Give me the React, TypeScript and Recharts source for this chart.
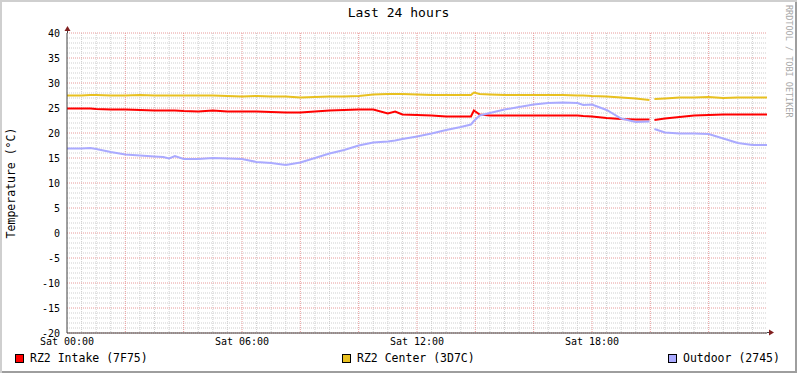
import React from 'react';
import { LineChart, Line, XAxis, YAxis, CartesianGrid, ReferenceDot } from 'recharts';

// time in hours since Sat 00:00
const hours = [0, 0.5, 0.8, 1, 1.5, 2, 2.5, 3, 3.3, 3.5, 3.7, 4, 4.5, 5, 5.5, 6, 6.5, 7, 7.5, 8, 8.5, 9, 9.5, 10, 10.5, 11, 11.25, 11.5, 12, 12.5, 13, 13.5, 13.85, 13.95, 14.15, 14.5, 15, 15.5, 16, 16.5, 17, 17.5, 17.7, 18, 18.5, 19, 19.5, 19.97, 20.05, 20.14, 20.5, 21, 21.5, 22, 22.5, 23, 23.5, 24];

const intake = [24.9, 24.9, 24.9, 24.8, 24.7, 24.7, 24.6, 24.5, 24.5, 24.5, 24.5, 24.4, 24.3, 24.5, 24.3, 24.3, 24.3, 24.2, 24.1, 24.1, 24.3, 24.5, 24.6, 24.7, 24.7, 23.9, 24.3, 23.7, 23.6, 23.5, 23.3, 23.3, 23.3, 24.5, 23.7, 23.5, 23.5, 23.5, 23.5, 23.5, 23.5, 23.5, 23.4, 23.3, 23.0, 22.8, 22.7, 22.7, null, 22.6, 22.9, 23.2, 23.5, 23.6, 23.7, 23.7, 23.7, 23.7];

const center = [27.5, 27.5, 27.6, 27.6, 27.5, 27.5, 27.6, 27.5, 27.5, 27.5, 27.5, 27.5, 27.5, 27.5, 27.4, 27.3, 27.4, 27.3, 27.3, 27.1, 27.2, 27.3, 27.3, 27.4, 27.7, 27.8, 27.8, 27.8, 27.7, 27.6, 27.6, 27.6, 27.6, 28.1, 27.8, 27.7, 27.6, 27.6, 27.6, 27.6, 27.6, 27.5, 27.5, 27.4, 27.3, 27.1, 26.9, 26.6, null, 26.8, 26.9, 27.1, 27.1, 27.2, 27.0, 27.1, 27.1, 27.1];

const outdoor = [16.9, 16.9, 17.0, 16.8, 16.2, 15.7, 15.5, 15.3, 15.2, 14.9, 15.4, 14.8, 14.8, 15.0, 14.9, 14.8, 14.2, 14.0, 13.6, 14.1, 15.0, 15.9, 16.6, 17.5, 18.1, 18.3, 18.5, 18.8, 19.3, 19.9, 20.6, 21.2, 21.7, 22.4, 23.5, 24.0, 24.7, 25.2, 25.7, 26.0, 26.1, 26.0, 25.6, 25.7, 24.6, 22.9, 22.2, 22.3, null, 20.8, 20.1, 19.9, 19.9, 19.8, 18.9, 18.0, 17.6, 17.6];

const xTicks = [0, 6, 12, 18];
const xTickLabels = ['Sat 00:00', 'Sat 06:00', 'Sat 12:00', 'Sat 18:00'];
const yTicks = [-20, -15, -10, -5, 0, 5, 10, 15, 20, 25, 30, 35, 40];

const seriesNames = ['RZ2 Intake (7F75)', 'RZ2 Center (3D7C)', 'Outdoor (2745)'];
const seriesKeys = ['intake', 'center', 'outdoor'];
const seriesColors = ['#FF0000', '#E8C020', '#AAAAFF'];
const legendLeft = [15, 342, 668];

const data = hours.map((h, i) => ({ h, intake: intake[i], center: center[i], outdoor: outdoor[i] }));

const minorY: number[] = [];
for (let v = -20; v <= 40; v += 1) if (v % 5 !== 0) minorY.push(v);
const majorY: number[] = [];
for (let v = -20; v <= 40; v += 5) majorY.push(v);
const minorX: number[] = [];
for (let v = 0.5; v < 24; v += 0.5) if (v % 2 !== 0) minorX.push(v);
const majorX: number[] = [];
for (let v = 2; v < 24; v += 2) majorX.push(v);

const FONT = '"DejaVu Sans Mono", monospace';

const UpArrow = (p: any) => (
  <g>
    <line x1={p.cx + 0.5} y1={p.cy} x2={p.cx + 0.5} y2={p.cy - 3} stroke="#404040" strokeWidth={1} />
    <polygon points={`${p.cx - 2.5},${p.cy - 2} ${p.cx + 3.5},${p.cy - 2} ${p.cx + 0.5},${p.cy - 7}`} fill="#801F1F" />
  </g>
);
const RightArrow = (p: any) => (
  <g>
    <line x1={p.cx} y1={p.cy - 0.5} x2={p.cx + 3} y2={p.cy - 0.5} stroke="#404040" strokeWidth={1} />
    <polygon points={`${p.cx + 2},${p.cy - 3.5} ${p.cx + 2},${p.cy + 2.5} ${p.cx + 7},${p.cy - 0.5}`} fill="#801F1F" />
  </g>
);

export default function App() {
  return (
    <div style={{ position: 'absolute', left: 0, top: 0, width: 797, height: 373, background: '#FFFFFF', boxShadow: 'inset 2px 2px 0 #CFCFCF, inset -2px -2px 0 #9E9E9E', fontFamily: FONT }}>
      <div style={{ position: 'absolute', left: 0, width: 797, top: 5, textAlign: 'center', fontSize: 13, color: '#000', lineHeight: '16px' }}>Last 24 hours</div>
      <div style={{ position: 'absolute', left: 11, top: 183, transform: 'translate(-50%, -50%) rotate(-90deg)', fontSize: 11.5, whiteSpace: 'nowrap', color: '#000' }}>Temperature (°C)</div>
      <div style={{ position: 'absolute', left: 784, top: 5, writingMode: 'vertical-rl', fontSize: 8.5, color: '#A8A8A8', whiteSpace: 'nowrap', lineHeight: '9px' }}>RRDTOOL / TOBI OETIKER</div>
      {seriesNames.map((n, i) => (
        <div key={n} style={{ position: 'absolute', left: legendLeft[i], top: 350, height: 16, display: 'flex', alignItems: 'center', fontSize: 11.5, color: '#000', whiteSpace: 'nowrap' }}>
          <span style={{ display: 'inline-block', width: 7, height: 7, border: '1px solid #000', background: seriesColors[i], marginRight: 6 }} />
          {n}
        </div>
      ))}
      <div style={{ position: 'absolute', left: 0, top: 0 }}>
        <LineChart width={797} height={373} data={data} margin={{ top: 33, right: 30, bottom: 20, left: 27 }}>
          <CartesianGrid horizontalValues={minorY} verticalValues={minorX} stroke="#CFCFCF" strokeDasharray="1 1" />
          <CartesianGrid horizontalValues={majorY} verticalValues={majorX} stroke="#E89A9A" strokeDasharray="1 1" />
          <XAxis
            dataKey="h"
            type="number"
            domain={[0, 24]}
            ticks={xTicks}
            tickFormatter={(v: number) => xTickLabels[xTicks.indexOf(v)]}
            tickLine={false}
            tickSize={0}
            tickMargin={5}
            height={20}
            axisLine={{ stroke: '#404040' }}
            tick={{ fontFamily: FONT, fontSize: 10, fill: '#000' }}
            interval={0}
          />
          <YAxis
            type="number"
            domain={[-20, 40]}
            ticks={yTicks}
            tickLine={false}
            tickSize={0}
            tickMargin={7}
            width={40}
            axisLine={{ stroke: '#404040' }}
            tick={{ fontFamily: FONT, fontSize: 10, fill: '#000' }}
            interval={0}
          />
          {seriesKeys.map((k, i) => (
            <Line key={k} dataKey={k} name={seriesNames[i]} stroke={seriesColors[i]} strokeWidth={2} dot={false} activeDot={false} type="linear" isAnimationActive={false} connectNulls={false} />
          ))}
          <ReferenceDot x={0} y={40} r={0} ifOverflow="visible" shape={UpArrow} />
          <ReferenceDot x={24} y={-20} r={0} ifOverflow="visible" shape={RightArrow} />
        </LineChart>
      </div>
    </div>
  );
}
